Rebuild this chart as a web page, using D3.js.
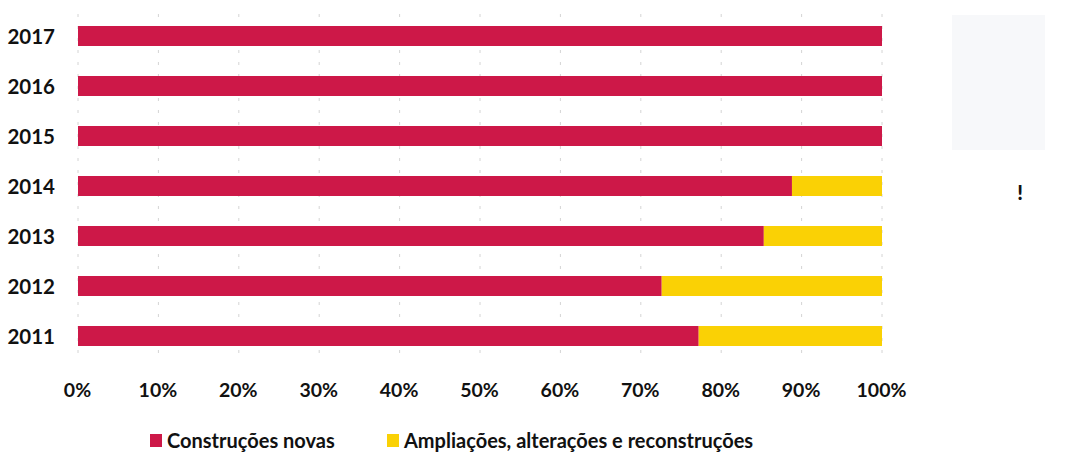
<!DOCTYPE html>
<html><head><meta charset="utf-8">
<script src="https://cdn.jsdelivr.net/npm/d3@7"></script>
<style>body{margin:0;background:#fff}svg{display:block}</style>
</head><body>
<svg id="c" width="1083" height="457"></svg>
<script>
const years = ["2017","2016","2015","2014","2013","2012","2011"];
const novas = [100, 100, 100, 88.8, 85.3, 72.6, 77.2];
const ampliacoes = [0, 0, 0, 11.2, 14.7, 27.4, 22.8];
const seriesNames = ["Construções novas","Ampliações, alterações e reconstruções"];
const seriesColors = ["#cd1848","#fad105"];
const tickValues = [0,10,20,30,40,50,60,70,80,90,100];

const svg = d3.select("#c");
const x = d3.scaleLinear().domain([0,100]).range([78,882]);
const y = d3.scaleBand().domain(years).range([11,361]).paddingInner(0.6).paddingOuter(0.3);
const font = "Lato, 'Open Sans', sans-serif";

// faint gridlines
svg.append("g").selectAll("line").data(tickValues).join("line")
  .attr("x1", d=>x(d)).attr("x2", d=>x(d)).attr("y1", 14).attr("y2", 360)
  .attr("stroke", "#d4d4d4").attr("stroke-width", 1).attr("stroke-dasharray", "3,9");

const rows = years.map((yr,i)=>({year:yr, vals:[novas[i], ampliacoes[i]]}));
const stack = d3.stack().keys([0,1]).value((d,k)=>d.vals[k]);
const stacked = stack(rows);

svg.append("g").selectAll("g").data(stacked).join("g")
  .attr("fill", (d,i)=>seriesColors[i])
  .selectAll("rect").data(d=>d.filter(s=>s[1]-s[0]>0)).join("rect")
  .attr("x", d=>x(d[0])).attr("width", d=>x(d[1])-x(d[0]))
  .attr("y", d=>y(d.data.year)).attr("height", y.bandwidth());

// y axis labels
const yAxis = d3.axisLeft(y).tickSize(0).tickPadding(0);
const gy = svg.append("g").attr("transform","translate(55,1)").call(yAxis);
gy.select(".domain").remove();
gy.selectAll("text").attr("font-family", font).attr("font-weight", 700)
  .attr("font-size", 20.5).attr("fill", "#111");

// x axis labels
const xAxis = d3.axisBottom(x).tickValues(tickValues).tickFormat(d=>d+"%").tickSize(0).tickPadding(0);
const gx = svg.append("g").attr("transform","translate(-1,383)").call(xAxis);
gx.select(".domain").remove();
gx.selectAll("text").attr("font-family", font).attr("font-weight", 700)
  .attr("font-size", 19.5).attr("fill", "#111");

// legend
const legendX = [150, 387];
const lg = svg.append("g").selectAll("g").data(seriesNames).join("g")
  .attr("transform", (d,i)=>`translate(${legendX[i]},434)`);
lg.append("rect").attr("width", 12).attr("height", 13).attr("fill", (d,i)=>seriesColors[i]);
lg.append("text").attr("x", 17).attr("y", 7).attr("dy", "0.35em")
  .attr("font-family", font).attr("font-weight", 700).attr("font-size", 20)
  .attr("fill", "#111").text(d=>d);

// scan residue on the right
svg.append("rect").attr("x", 952).attr("y", 15).attr("width", 93).attr("height", 135)
  .attr("fill", "#e9ebf0").attr("opacity", 0.35);
svg.append("text").attr("x", 1020).attr("y", 200).attr("text-anchor","middle")
  .attr("font-family", font).attr("font-weight", 900).attr("font-size", 20).attr("fill","#111").text("!");
</script>
</body></html>
